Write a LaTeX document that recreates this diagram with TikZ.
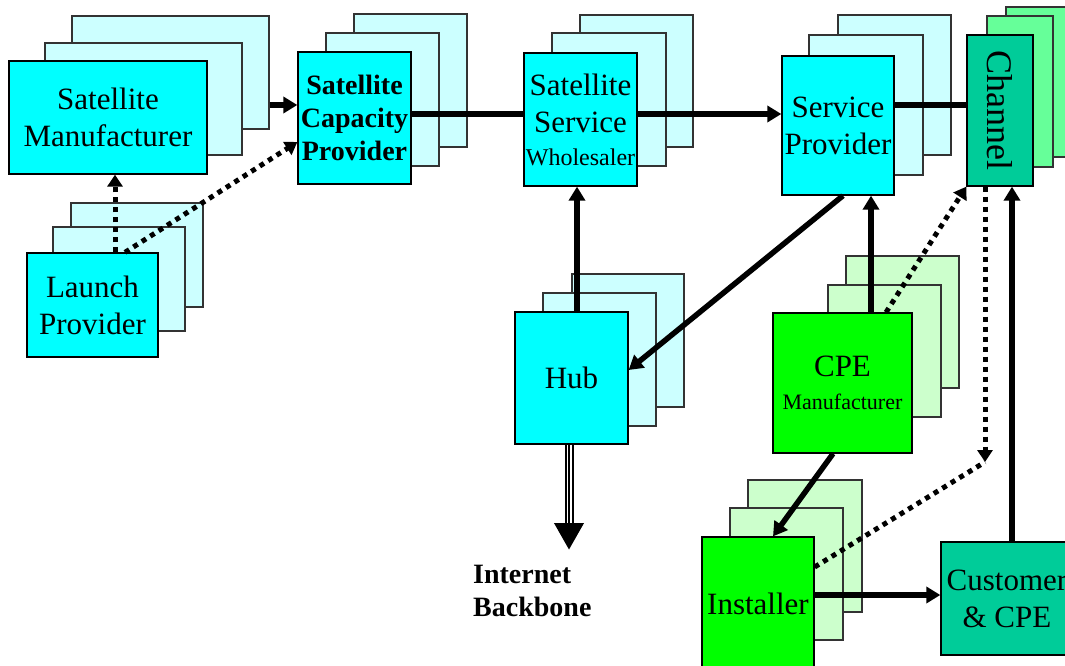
\documentclass[tikz,border=0pt]{standalone}
\usepackage{fontspec}
\setmainfont{Liberation Serif}
\usetikzlibrary{arrows.meta}
\definecolor{cyF}{HTML}{00FFFF}
\definecolor{cyB}{HTML}{CCFFFF}
\definecolor{grF}{HTML}{00FF00}
\definecolor{grB}{HTML}{CCFFCC}
\definecolor{tealc}{HTML}{00CC99}
\definecolor{mintc}{HTML}{66FF99}
\newcommand\bx[6]{\node[#1, minimum width=#4pt, minimum height=#5pt] (#2) at (#3) {#6};}
\begin{document}
\begin{tikzpicture}[x=1pt,y=-1pt,
  bk/.style={draw=black!80, line width=1.2pt, inner sep=0pt},
  fr/.style={draw=black, line width=1.3pt, inner sep=0pt, align=center, font=\fontsize{31}{37}\selectfont},
  cb/.style={bk, fill=cyB},
  cf/.style={fr, fill=cyF},
  gb/.style={bk, fill=grB},
  gf/.style={fr, fill=grF},
  mb/.style={bk, fill=mintc},
  tf/.style={fr, fill=tealc},
  ln/.style={line width=5.5pt},
  arr/.style={line width=5.5pt, -{Triangle[length=14pt,width=16pt]}},
  dln/.style={line width=5pt, dash pattern=on 5pt off 5pt},
  darr/.style={dln, -{Triangle[length=12pt,width=15pt]}}
]
\useasboundingbox (0,0) rectangle (1065,666);
\clip (0,0) rectangle (1065,666);

% Satellite Manufacturer
\bx{cb}{satman-b}{170.5,72.5}{197}{113}{}
\bx{cb}{satman-m}{143.5,99}{197}{112}{}
\bx{cf}{satman}{108,117.5}{198}{113}{Satellite\\Manufacturer}
% Satellite Capacity Provider
\bx{cb}{cap-b}{410.5,80.5}{113}{133}{}
\bx{cb}{cap-m}{382.5,99.5}{113}{133}{}
\bx{cf, font=\bfseries\fontsize{28}{33}\selectfont}{cap}{354.5,118}{113}{132}{Satellite\\Capacity\\Provider}
% Satellite Service Wholesaler
\bx{cb}{whole-b}{636.5,81}{113}{132}{}
\bx{cb}{whole-m}{609,99.5}{114}{133}{}
\bx{cf}{whole}{580.5,119.5}{113}{133}{Satellite\\Service\\[-4pt]{\fontsize{24}{28}\selectfont Wholesaler}}
% Service Provider
\bx{cb}{sp-b}{894.5,85}{113}{140}{}
\bx{cb}{sp-m}{866,105}{114}{140}{}
\bx{cf}{sp}{838,125.5}{112}{139}{Service\\Provider}
% Channel
\bx{mb}{chan-b}{1039,82}{66}{150}{}
\bx{mb}{chan-m}{1020,91.5}{66}{151}{}
\bx{tf}{chan}{1000,110.5}{66}{151}{\rotatebox{-90}{\fontsize{36}{40}\selectfont Channel}}
% Launch Provider
\bx{cb}{launch-b}{137,255}{132}{104}{}
\bx{cb}{launch-m}{119,279}{132}{104}{}
\bx{cf}{launch}{92.5,305}{131}{104}{Launch\\Provider}
% Hub
\bx{cb}{hub-b}{628,340.5}{112}{133}{}
\bx{cb}{hub-m}{599.5,359.5}{113}{133}{}
\bx{cf}{hub}{571.5,378}{113}{132}{Hub}
% CPE Manufacturer
\bx{gb}{cpe-b}{902.5,322}{113}{132}{}
\bx{gb}{cpe-m}{884.5,351}{113}{132}{}
\bx{gf}{cpe}{842.5,383}{139}{140}{CPE\\[-4pt]{\fontsize{22}{26}\selectfont Manufacturer}}
% Installer
\bx{gb}{inst-b}{805,546}{114}{132}{}
\bx{gb}{inst-m}{786.5,574}{113}{132}{}
\bx{gf}{inst}{758,604}{112}{134}{Installer}
% Customer & CPE
\bx{tf}{cust}{1007,598.5}{132}{113}{Customer\\\& CPE}
% Internet Backbone
\node[anchor=north west, inner sep=0pt, align=left, font=\bfseries\fontsize{28}{33}\selectfont] (inet) at (473,565) {Internet\\Backbone};

\coordinate (j) at (985,462);
\coordinate (ibtip) at (569,550);

% connectors
\draw[arr] (satman-b.east |- 0,105) -- (cap.west |- 0,105);
\draw[darr] (launch.north -| 115,0) -- (satman.south -| 115,0);
\draw[darr] (launch.north -| 125,0) -- (cap.west |- 0,142);
\draw[ln] (cap.east |- 0,114) -- (whole.west |- 0,114);
\draw[arr] (whole.east |- 0,114) -- (sp.west |- 0,114);
\draw[ln] (sp.east |- 0,105) -- (chan.west |- 0,105);
\draw[arr] (hub.north -| 577,0) -- (whole.south -| 577,0);
\draw[arr] (sp.south -| 843,0) -- (hub.east |- 0,370);
\draw[arr] (cpe.north -| 871,0) -- (sp.south -| 871,0);
\draw[darr] (cpe.north -| 886,0) -- (chan.south west);
\draw[darr] (chan.south -| 985,0) -- (j);
\draw[dln] (inst.east |- 0,567) -- (j);
\draw[arr] (cust.north -| 1012,0) -- (chan.south -| 1012,0);
\draw[arr] (cpe.south -| 833,0) -- (inst.north -| 773,0);
\draw[arr] (inst.east |- 0,595) -- (cust.west |- 0,595);
% hub to internet backbone (hollow shaft)
\draw[line width=9pt, -{Triangle[length=27pt,width=28pt]}] (hub.south -| 569,0) -- (ibtip);
\draw[line width=5pt, white, shorten >=27pt] (hub.south -| 569,0) -- (ibtip);
\draw[line width=1.5pt, shorten >=27pt] (hub.south -| 569,0) -- (ibtip);
\end{tikzpicture}
\end{document}
